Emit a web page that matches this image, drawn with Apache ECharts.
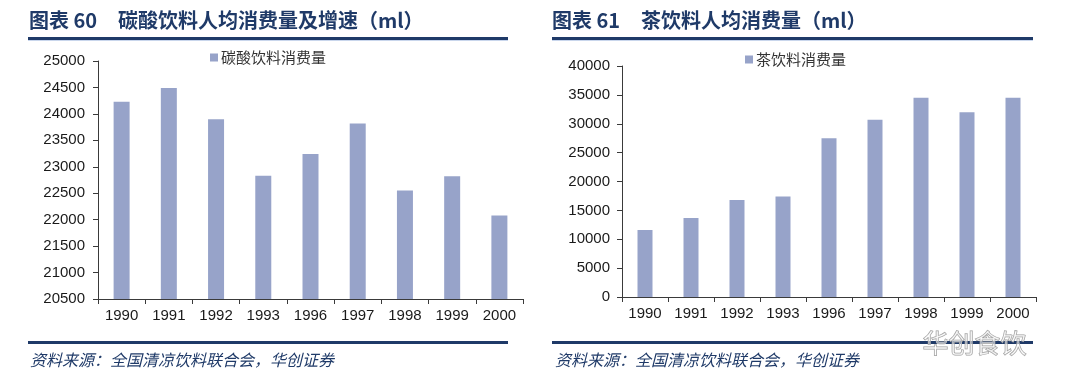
<!DOCTYPE html>
<html>
<head>
<meta charset="utf-8">
<script src="https://cdn.jsdelivr.net/npm/echarts@6/dist/echarts.min.js"></script>
<style>
html,body{margin:0;padding:0;background:#fff;}
#c{width:1080px;height:389px;}
</style>
</head>
<body>
<div id="c"></div>
<script>
// ---- data ----
var years = ['1990','1991','1992','1993','1996','1997','1998','1999','2000'];
var sodaName = '碳酸饮料消费量';
var sodaValues = [24230, 24490, 23900, 22830, 23240, 23820, 22550, 22820, 22080];
var teaName = '茶饮料消费量';
var teaValues = [11600, 13700, 16800, 17400, 27500, 30700, 34500, 32000, 34500];
var leftTitleNo = '图表 60';
var leftTitle = '碳酸饮料人均消费量及增速（ml）';
var rightTitleNo = '图表 61';
var rightTitle = '茶饮料人均消费量（ml）';
var sourceText = '资料来源：全国清凉饮料联合会，华创证券';
var watermark = '华创食饮';

var NAVY = '#1f3a68';
var BAR = '#97a3c9';
var AXIS = '#3a3a3a';
var LABEL = '#1a1a1a';
var NUMFONT = '"Liberation Sans", Arial, sans-serif';
var CJK = '"Noto Sans CJK SC", sans-serif';

var chart = echarts.init(document.getElementById('c'), null, {renderer: 'canvas'});

function xAxisFor(gi) {
  return {
    type: 'category', gridIndex: gi, data: years,
    axisLine: {lineStyle: {color: AXIS, width: 1}},
    axisTick: {show: true, length: 5, lineStyle: {color: AXIS}},
    axisLabel: {color: LABEL, fontSize: 15, fontFamily: NUMFONT, margin: 9}
  };
}
function yAxisFor(gi, min, max, interval, margin) {
  return {
    type: 'value', gridIndex: gi, min: min, max: max, interval: interval,
    axisLine: {show: true, lineStyle: {color: AXIS, width: 1}},
    axisTick: {show: true, length: 5, lineStyle: {color: AXIS}},
    splitLine: {show: false},
    axisLabel: {color: LABEL, fontSize: 15, fontFamily: NUMFONT, margin: margin,
                formatter: function (v) { return String(v); }}
  };
}

var option = {
  backgroundColor: '#ffffff',
  animation: false,
  grid: [
    {left: 98, right: 557, top: 61, bottom: 90},
    {left: 622, right: 44, top: 66, bottom: 92}
  ],
  xAxis: [xAxisFor(0), xAxisFor(1)],
  yAxis: [
    yAxisFor(0, 20500, 25000, 500, 13),
    yAxisFor(1, 0, 40000, 5000, 12)
  ],
  legend: [
    {data: [sodaName], left: 205, top: 45, itemWidth: 8, itemHeight: 8, itemGap: 0,
     icon: 'rect', textStyle: {fontSize: 15, color: '#333', fontFamily: CJK, padding: [0,0,0,-2]}},
    {data: [teaName], left: 740, top: 47, itemWidth: 8, itemHeight: 8, itemGap: 0,
     icon: 'rect', textStyle: {fontSize: 15, color: '#333', fontFamily: CJK, padding: [0,0,0,-2]}}
  ],
  series: [
    {name: sodaName, type: 'bar', xAxisIndex: 0, yAxisIndex: 0, data: sodaValues,
     barWidth: 16, itemStyle: {color: BAR}},
    {name: teaName, type: 'bar', xAxisIndex: 1, yAxisIndex: 1, data: teaValues,
     barWidth: 15, itemStyle: {color: BAR}}
  ],
  graphic: [
    // titles
    {type: 'text', left: 29, top: 10, style: {text: leftTitleNo, fill: NAVY, font: 'bold 20px ' + CJK}},
    {type: 'text', left: 118, top: 10, style: {text: leftTitle, fill: NAVY, font: 'bold 20px ' + CJK}},
    {type: 'text', left: 552, top: 10, style: {text: rightTitleNo, fill: NAVY, font: 'bold 20px ' + CJK}},
    {type: 'text', left: 641, top: 10, style: {text: rightTitle, fill: NAVY, font: 'bold 20px ' + CJK}},
    // header rules
    {type: 'rect', shape: {x: 28, y: 37, width: 480, height: 3}, style: {fill: NAVY}},
    {type: 'rect', shape: {x: 28, y: 40, width: 480, height: 1}, style: {fill: '#c9d6ec'}},
    {type: 'rect', shape: {x: 552, y: 37, width: 481, height: 3}, style: {fill: NAVY}},
    {type: 'rect', shape: {x: 552, y: 40, width: 481, height: 1}, style: {fill: '#c9d6ec'}},
    // footer rules
    {type: 'rect', shape: {x: 28, y: 341, width: 480, height: 3}, style: {fill: NAVY}},
    {type: 'rect', shape: {x: 552, y: 341, width: 481, height: 3}, style: {fill: NAVY}},
    // sources
    {type: 'text', left: 30, top: 352, style: {text: sourceText, fill: NAVY, font: 'italic 16px ' + CJK}},
    {type: 'text', left: 555, top: 352, style: {text: sourceText, fill: NAVY, font: 'italic 16px ' + CJK}},
    // watermark
    {type: 'text', left: 922, top: 330, z: 100,
     style: {text: watermark, fill: 'rgba(255,255,255,0.5)', stroke: '#9a9a9a', lineWidth: 1, font: '26px ' + CJK}}
  ]
};
chart.setOption(option);
</script>
</body>
</html>
